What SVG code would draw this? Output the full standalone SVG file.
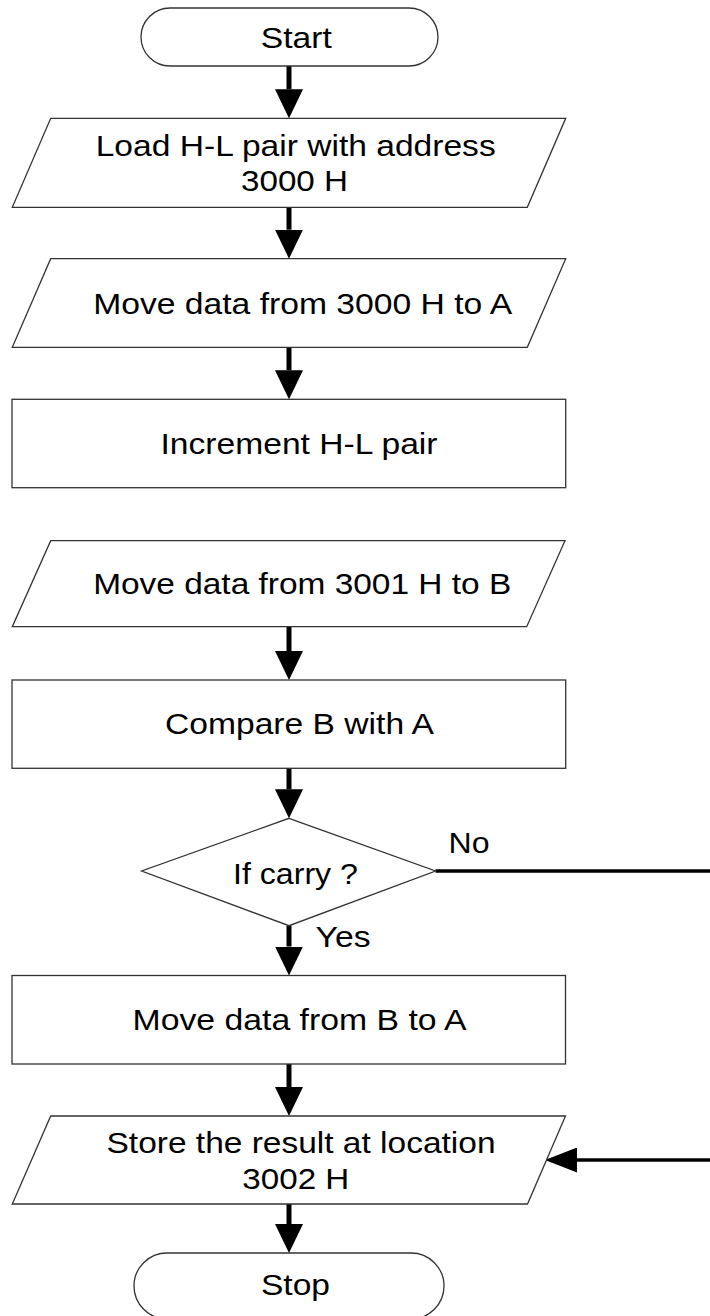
<svg xmlns="http://www.w3.org/2000/svg" width="710" height="1316" viewBox="0 0 710 1316">
  <style>
    .shape { fill: #ffffff; stroke: #333333; stroke-width: 1.3; }
    .lbl { font-family: "Liberation Sans", Arial, sans-serif; font-size: 30px; fill: #000000; text-anchor: middle; }
    .conn { stroke: #000000; stroke-width: 5; fill: none; }
    .connh { stroke: #000000; stroke-width: 3.5; fill: none; }
  </style>
  <defs>
    <marker id="ah" markerUnits="userSpaceOnUse" markerWidth="29" markerHeight="28" viewBox="0 0 29 28" refX="0" refY="14" orient="auto">
      <path d="M0,0 L29,14 L0,28 Z" fill="#000000"/>
    </marker>
    <marker id="ahs" markerUnits="userSpaceOnUse" markerWidth="32" markerHeight="25" viewBox="0 0 32 25" refX="0" refY="12.5" orient="auto">
      <path d="M0,0 L32,12.5 L0,25 Z" fill="#000000"/>
    </marker>
  </defs>
  <rect width="710" height="1316" fill="#ffffff"/>

  <g id="connectors">
    <line class="conn" x1="289" y1="66" x2="289" y2="89.3" marker-end="url(#ah)"/>
    <line class="conn" x1="289" y1="207.3" x2="289" y2="229.7" marker-end="url(#ah)"/>
    <line class="conn" x1="289" y1="347.3" x2="289" y2="370.3" marker-end="url(#ah)"/>
    <line class="conn" x1="289" y1="626.7" x2="289" y2="651" marker-end="url(#ah)"/>
    <line class="conn" x1="289" y1="768.3" x2="289" y2="789.3" marker-end="url(#ah)"/>
    <line class="conn" x1="289" y1="925.7" x2="289" y2="946.5" marker-end="url(#ah)"/>
    <line class="conn" x1="289" y1="1064" x2="289" y2="1087" marker-end="url(#ah)"/>
    <line class="conn" x1="289" y1="1204" x2="289" y2="1224" marker-end="url(#ah)"/>
    <line class="connh" x1="435.5" y1="871" x2="710" y2="871"/>
    <line class="connh" x1="710" y1="1160" x2="577" y2="1160" marker-end="url(#ahs)"/>
    <text class="lbl" x="469" y="853" textLength="41" lengthAdjust="spacingAndGlyphs">No</text>
    <text class="lbl" x="343" y="946.7" textLength="55" lengthAdjust="spacingAndGlyphs">Yes</text>
  </g>

  <g id="start">
    <rect class="shape" x="141" y="8" width="297" height="58" rx="29" ry="29"/>
    <text class="lbl" x="296.3" y="48" textLength="71" lengthAdjust="spacingAndGlyphs">Start</text>
  </g>

  <g id="load">
    <polygon class="shape" points="50.7,118.3 565.7,118.3 527.3,207.3 12.3,207.3"/>
    <text class="lbl" x="295.7" y="155.7" textLength="400" lengthAdjust="spacingAndGlyphs">Load H-L pair with address</text>
    <text class="lbl" x="294.5" y="190.7" textLength="107" lengthAdjust="spacingAndGlyphs">3000 H</text>
  </g>

  <g id="move3000">
    <polygon class="shape" points="50.7,258.7 565.7,258.7 527.3,347.3 12.3,347.3"/>
    <text class="lbl" x="302.7" y="314" textLength="419" lengthAdjust="spacingAndGlyphs">Move data from 3000 H to A</text>
  </g>

  <g id="increment">
    <rect class="shape" x="12" y="399.3" width="553.7" height="88.4"/>
    <text class="lbl" x="299" y="454.3" textLength="277" lengthAdjust="spacingAndGlyphs">Increment H-L pair</text>
  </g>

  <g id="move3001">
    <polygon class="shape" points="50.7,540.7 565,540.7 526.7,626.7 12.3,626.7"/>
    <text class="lbl" x="302.2" y="594.3" textLength="418" lengthAdjust="spacingAndGlyphs">Move data from 3001 H to B</text>
  </g>

  <g id="compare">
    <rect class="shape" x="12" y="680" width="553.7" height="88.3"/>
    <text class="lbl" x="299.5" y="734" textLength="269" lengthAdjust="spacingAndGlyphs">Compare B with A</text>
  </g>

  <g id="ifcarry">
    <polygon class="shape" points="289,818.3 435.5,871 289,925.7 141.7,871"/>
    <text class="lbl" x="295.5" y="884" textLength="125" lengthAdjust="spacingAndGlyphs">If carry ?</text>
  </g>

  <g id="moveba">
    <rect class="shape" x="12" y="975.5" width="553.5" height="88.5"/>
    <text class="lbl" x="299.6" y="1030" textLength="334" lengthAdjust="spacingAndGlyphs">Move data from B to A</text>
  </g>

  <g id="store">
    <polygon class="shape" points="50.7,1116 565.5,1116 527.5,1204 12.3,1204"/>
    <text class="lbl" x="301" y="1153" textLength="389" lengthAdjust="spacingAndGlyphs">Store the result at location</text>
    <text class="lbl" x="295.8" y="1189.3" textLength="107" lengthAdjust="spacingAndGlyphs">3002 H</text>
  </g>

  <g id="stop">
    <rect class="shape" x="134" y="1253" width="310" height="66" rx="33" ry="33"/>
    <text class="lbl" x="295.5" y="1295" textLength="69" lengthAdjust="spacingAndGlyphs">Stop</text>
  </g>
</svg>
